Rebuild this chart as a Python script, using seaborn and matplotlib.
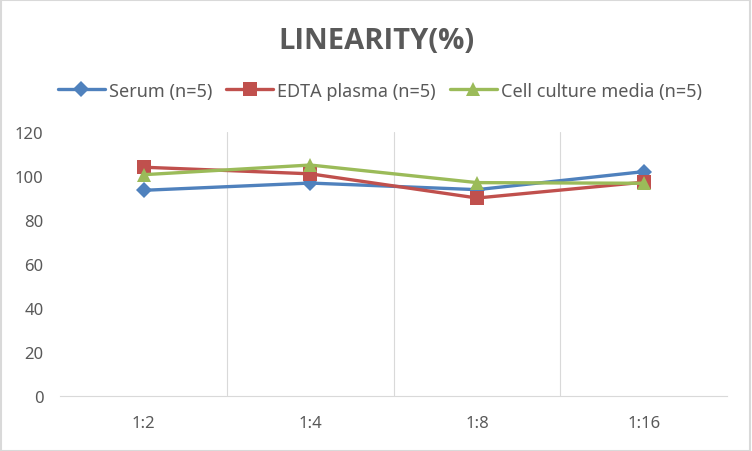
import matplotlib
matplotlib.use("Agg")
import matplotlib.pyplot as plt
import seaborn as sns
import pandas as pd
from matplotlib.patches import Rectangle

categories = ["1:2", "1:4", "1:8", "1:16"]
serum = [93.5, 96.8, 93.8, 102]
edta = [104, 101, 90, 97.2]
cell = [100.6, 105, 97, 96.7]
series_names = ["Serum (n=5)", "EDTA plasma (n=5)", "Cell culture media (n=5)"]
yticks = [0, 20, 40, 60, 80, 100, 120]

rows = []
for name, vals in zip(series_names, [serum, edta, cell]):
    for c, v in zip(categories, vals):
        rows.append({"Dilution": c, "Value": v, "Series": name})
df = pd.DataFrame(rows)

sns.set_style("white")
plt.rcParams['font.family'] = ['Noto Sans', 'DejaVu Sans']

fig = plt.figure(figsize=(7.52, 4.52), dpi=100)
ax = fig.add_axes([0.08, 0.1217, 0.887, 0.584])

palette = {series_names[0]: "#4F81BD", series_names[1]: "#C0504D", series_names[2]: "#9BBB59"}
markers = {series_names[0]: "D", series_names[1]: "s", series_names[2]: "^"}
sizes = {series_names[0]: 8, series_names[1]: 10, series_names[2]: 10}

for name in series_names:
    sub = df[df["Series"] == name]
    sns.lineplot(data=sub, x="Dilution", y="Value", ax=ax, color=palette[name],
                 marker=markers[name], markersize=sizes[name], markeredgewidth=0,
                 linewidth=2.4, label=name, sort=False)

ax.set_xlim(-0.5, 3.5)
ax.set_ylim(0, 120)
ax.set_yticks(yticks)
ax.set_xlabel("")
ax.set_ylabel("")
ax.set_xticks(range(len(categories)))
ax.set_xticklabels(categories)
for x in [0.5, 1.5, 2.5]:
    ax.axvline(x, color="#D9D9D9", linewidth=0.8, zorder=0)
for s in ["top", "right", "left"]:
    ax.spines[s].set_visible(False)
ax.spines["bottom"].set_color("#D9D9D9")
ax.spines["bottom"].set_linewidth(0.8)
ax.tick_params(axis="both", length=0, labelsize=12, colors="#595959")
ax.tick_params(axis="x", pad=14)
ax.tick_params(axis="y", pad=12)

ax.legend(loc="center", bbox_to_anchor=(0.505, 0.797), bbox_transform=fig.transFigure,
          ncol=3, frameon=False, fontsize=13, handlelength=2.6, columnspacing=0.8,
          handletextpad=0.2, labelcolor="#595959")

fig.text(0.5, 0.908, "LINEARITY(%)", ha="center", va="center", fontsize=21,
         fontweight="bold", color="#595959", family=["Open Sans", "DejaVu Sans"])

fig.patches.append(Rectangle((0.001, 0.001), 0.997, 0.997, transform=fig.transFigure,
                             fill=False, edgecolor="#D9D9D9", linewidth=1.5))

fig.savefig("out.png", dpi=100, facecolor="white")
